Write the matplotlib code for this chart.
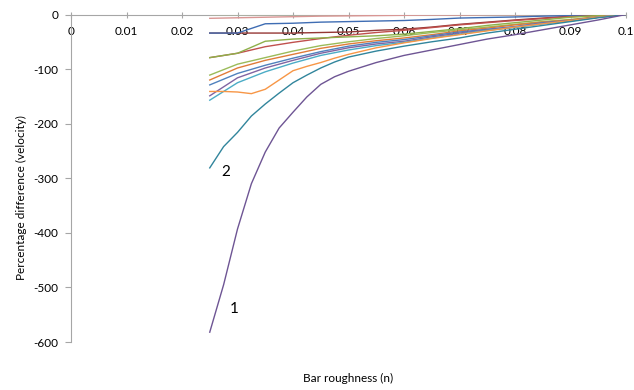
import matplotlib
matplotlib.use("Agg")
import matplotlib.pyplot as plt

# --- DATA ---
roughness = [0.025, 0.03, 0.035, 0.04, 0.045, 0.05, 0.055, 0.06,
             0.065, 0.07, 0.075, 0.08, 0.085, 0.09, 0.095, 0.1]
# the three lowest curves were read at a finer step
roughness_fine = [0.025, 0.0275, 0.03, 0.0325, 0.035, 0.0375, 0.04, 0.0425, 0.045, 0.0475,
                  0.05, 0.055, 0.06, 0.065, 0.07, 0.075, 0.08, 0.085, 0.09, 0.095, 0.1]

light_green = [1.5, 1.5, 1.5, 1.5, 1.5, 1.5, 1.5, 1.5, 1.5, 1.5, 1.5, 1.5, 1.5, 1.5, 1.5, 1.5]
pink = [-7, -6, -5, -4, -3, -2.5, -2, -1.5, -1, -1, -0.5, -0.5, 0, 0, 0, 0]
blue_jump = [-34, -34, -17, -16, -14, -13, -12, -11, -9, -6.5, -5.5, -4.5, -3, -2, -1, 0]
maroon = [-34, -34, -34, -34, -33, -32, -29, -27, -23, -18, -14, -10, -6.5, -3, -1.5, 0]
red = [-79, -71, -59, -51, -44, -38, -33, -29, -24, -19, -15, -11, -7.5, -4, -2, 0]
olive = [-79, -71, -49, -45, -43, -41, -39, -36, -31, -26, -20, -15, -10, -5, -2, 0]
green = [-111, -91, -79, -67, -57, -50, -44, -39, -33, -28, -23, -18, -13, -9, -4, 0]
brown = [-120, -98, -84, -73, -62, -54, -48, -43, -37, -30, -25, -19, -14, -10, -4, 0]
blue = [-129, -108, -93, -80, -68, -58, -51, -46, -39, -32, -27, -22, -15, -11, -5, 0]
purple2 = [-149, -116, -98, -84, -71, -61, -54, -49, -41, -34, -28, -23, -16, -11, -5, 0]
cyan = [-157, -125, -105, -89, -75, -65, -57, -51, -43, -36, -29, -24, -17, -12, -5, 0]

orange = [-141, -141, -142, -145, -137, -120, -103, -95, -88, -80, -73, -61, -52, -44,
          -37, -30, -23, -17, -11, -5, 0]
teal = [-281, -242, -216, -186, -164, -144, -125, -111, -98, -87, -78, -67, -58, -50,
        -43, -34, -27, -20, -13, -6, 0]
purple = [-582, -495, -393, -310, -252, -208, -179, -151, -128, -114, -104, -88, -75, -65,
          -55, -45, -37, -28, -19, -10, 0]

series = [
    (roughness, light_green, "#C3D69B"),
    (roughness, pink, "#D99694"),
    (roughness, maroon, "#953735"),
    (roughness, blue_jump, "#3F6DB3"),
    (roughness, red, "#C0504D"),
    (roughness, olive, "#8EB04A"),
    (roughness, green, "#9BBB59"),
    (roughness, brown, "#E07B39"),
    (roughness, blue, "#4F81BD"),
    (roughness, purple2, "#8064A2"),
    (roughness, cyan, "#4BACC6"),
    (roughness_fine, orange, "#F79646"),
    (roughness_fine, teal, "#31859C"),
    (roughness_fine, purple, "#6E5594"),
]

x_ticks = [0, 0.01, 0.02, 0.03, 0.04, 0.05, 0.06, 0.07, 0.08, 0.09, 0.1]
x_tick_labels = ["0", "0.01", "0.02", "0.03", "0.04", "0.05", "0.06", "0.07", "0.08", "0.09", "0.1"]
y_ticks = [0, -100, -200, -300, -400, -500, -600]

# --- PLOT ---
plt.rcParams['font.family'] = ['Lato', 'DejaVu Sans']
plt.rcParams['axes.unicode_minus'] = False

fig = plt.figure(figsize=(6.34, 3.9), dpi=100)
ax = fig.add_axes([71 / 634, 1 - 342 / 390, 555 / 634, 327.5 / 390])

for xs, vals, col in series:
    ax.plot(xs, vals, color=col, lw=1.0)

ax.set_xlim(0, 0.1)
ax.set_ylim(-600, 0)

ax.spines['right'].set_visible(False)
ax.spines['top'].set_visible(False)
ax.spines['bottom'].set_position(('data', 0))
ax.spines['bottom'].set_color('#A6A6A6')
ax.spines['left'].set_color('#A6A6A6')
ax.spines['bottom'].set_zorder(0)

ax.set_xticks(x_ticks)
ax.set_xticklabels(x_tick_labels)
ax.set_yticks(y_ticks)
ax.set_yticklabels([str(v) for v in y_ticks])
ax.tick_params(axis='x', direction='inout', length=5, color='#A6A6A6', labelsize=8.5, pad=6)
ax.tick_params(axis='y', direction='out', length=4, color='#A6A6A6', labelsize=8.5, pad=5)

ax.set_xlabel('Bar roughness (n)', fontsize=8.5)
ax.xaxis.set_label_coords(0.5, -0.095)
ax.set_ylabel('Percentage difference (velocity)', fontsize=8.5)
ax.yaxis.set_label_coords(-0.08, 0.44)

ax.text(0.0279, -288, '2', fontsize=11, ha='center', va='center')
ax.text(0.0294, -540, '1', fontsize=11, ha='center', va='center')

fig.savefig('out.png', dpi=100)
